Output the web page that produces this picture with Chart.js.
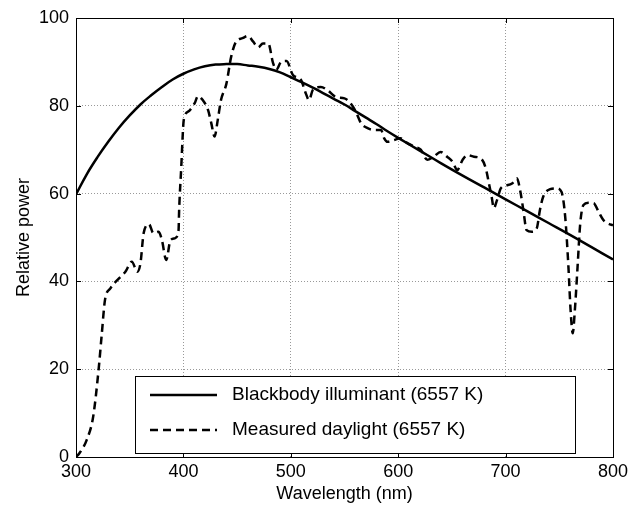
<!DOCTYPE html>
<html lang="en">
<head>
    <meta charset="UTF-8">
    <title>Blackbody vs measured daylight</title>
    <script src="https://cdn.jsdelivr.net/npm/chart.js"></script>
    <style>
        html, body {
            margin: 0;
            padding: 0;
            background: #ffffff;
        }
        .chart-box {
            width: 643px;
            height: 511px;
        }
    </style>
</head>
<body>
    <div class="chart-box">
        <canvas id="spectrumChart"></canvas>
    </div>
    <script>
        // values
        const blackbodyWavelengths = [300, 310, 320, 330, 340, 350, 360, 370, 380, 390, 400, 410, 420, 430, 440, 450,
            460, 470, 480, 490, 500, 510, 520, 530, 540, 550, 560, 570, 580, 590, 600, 620, 640, 660, 680, 700,
            720, 740, 760, 780, 800];
        const blackbodyPower = [59.8, 64.4, 68.3, 71.8, 75, 77.8, 80.3, 82.4, 84.3, 86, 87.3, 88.3, 89, 89.4, 89.5, 89.5,
            89.2, 88.9, 88.4, 87.6, 86.5, 85.4, 84.2, 82.9, 81.6, 80.3, 78.8, 77.3, 75.8, 74.2, 72.7, 69.8, 66.9, 64.1, 61.4, 58.7,
            56, 53.3, 50.6, 47.8, 45];

        const daylightWavelengths = [300, 303, 310, 316, 321, 324, 327, 332, 340, 346, 352, 357, 360, 363, 368, 372,
            377, 380, 384, 388, 392, 395.5, 396, 398, 400, 401, 406, 410.5, 413.5, 418, 423, 426, 429, 432, 435, 440,
            444.5, 449, 455, 460, 465, 469.5, 474, 479, 483.5, 486.5, 491, 496, 502, 509.5, 514, 517, 520.5, 528, 534,
            542, 550, 554.5, 560.5, 565.5, 571.5, 578, 584, 587, 590, 596, 602, 608.5, 615, 621, 627, 633, 639.5,
            645.5, 650.5, 655, 660, 664.5, 670.5, 677, 681.5, 684.5, 687, 689, 692, 695.5, 700, 706, 710.5, 713.5,
            716.5, 719.5, 724.5, 729, 732, 735, 741.5, 747.5, 752, 755.5, 758.5, 760.5, 762.5, 764.5, 767, 769.5,
            772.5, 777, 782, 786.5, 791, 795.5, 800];
        const daylightPower = [0, 0.8, 3.9, 9.2, 19.8, 28, 35.8, 38.4, 40.7, 42.2, 44.5, 42.2, 44.1, 51, 53, 51,
            51.3, 49.4, 44.9, 49.4, 49.8, 51.7, 56, 66, 76, 77.5, 79, 80.6, 82.2, 81.3, 79, 76, 73, 76.8, 81.3, 85,
            91.2, 94.6, 95.4, 95.9, 94.6, 93.3, 94.2, 94.2, 89.7, 88.2, 90, 90.2, 87, 85.9, 82.8, 81.3, 83.6, 84.3, 83.6,
            82, 81.7, 80.9, 78.7, 76, 74.9, 74.5, 74.5, 72.6, 71.8, 72.2, 72.6, 71.5, 70.7, 70, 67.7, 68.4, 69.5,
            68.4, 67.3, 65.4, 67.7, 68.8, 68.4, 68, 65.8, 62.3, 59.3, 56.7, 58.5, 61.2, 61.8, 62.3, 63.5, 60.8,
            56.3, 51.7, 51.3, 52.1, 56.3, 59.3, 61, 61.2, 60.4, 54.7, 43.3, 33.5, 28.2, 33.5, 43.3, 53.2,
            57.4, 57.9, 57.8, 55.9, 54, 53.2, 52.8];

        const xTicks = [300, 400, 500, 600, 700, 800];
        const yTicks = [0, 20, 40, 60, 80, 100];

        const seriesNames = ['Blackbody illuminant (6557 K)', 'Measured daylight (6557 K)'];

        const fontFamily = 'Arial, "Liberation Sans", Helvetica, sans-serif';

        const toPoints = (xs, ys) => xs.map((x, i) => ({ x: x, y: ys[i] }));

        // box around the axes with inward ticks on all four sides
        const frameAndTicks = {
            id: 'frameAndTicks',
            afterDatasetsDraw(chart) {
                const { ctx, chartArea: a, scales } = chart;
                const len = 5;
                ctx.save();
                ctx.strokeStyle = '#000';
                ctx.lineWidth = 1;
                ctx.beginPath();
                xTicks.forEach(v => {
                    const px = Math.round(scales.x.getPixelForValue(v)) + 0.5;
                    ctx.moveTo(px, a.bottom); ctx.lineTo(px, a.bottom - len);
                    ctx.moveTo(px, a.top); ctx.lineTo(px, a.top + len);
                });
                yTicks.forEach(v => {
                    const py = Math.round(scales.y.getPixelForValue(v)) + 0.5;
                    ctx.moveTo(a.left, py); ctx.lineTo(a.left + len, py);
                    ctx.moveTo(a.right, py); ctx.lineTo(a.right - len, py);
                });
                ctx.stroke();
                ctx.strokeRect(Math.round(a.left) + 0.5, Math.round(a.top) + 0.5,
                    Math.round(a.right - a.left), Math.round(a.bottom - a.top));
                ctx.restore();
            }
        };

        // legend box sitting inside the plot, lower left
        const innerLegend = {
            id: 'innerLegend',
            afterDraw(chart) {
                const { ctx, chartArea: a } = chart;
                const x0 = a.left + 59, y0 = a.bottom - 81;
                const w = 440, h = 77;
                ctx.save();
                ctx.fillStyle = '#fff';
                ctx.fillRect(x0, y0, w, h);
                ctx.strokeStyle = '#000';
                ctx.lineWidth = 1;
                ctx.strokeRect(x0 + 0.5, y0 + 0.5, w, h);
                chart.data.datasets.forEach((ds, i) => {
                    const ly = y0 + 19 + i * 35;
                    ctx.beginPath();
                    ctx.setLineDash(ds.borderDash || []);
                    ctx.lineWidth = ds.borderWidth;
                    ctx.strokeStyle = ds.borderColor;
                    ctx.moveTo(x0 + 15, ly);
                    ctx.lineTo(x0 + 82, ly);
                    ctx.stroke();
                    ctx.setLineDash([]);
                    ctx.fillStyle = '#000';
                    ctx.font = '19px ' + fontFamily;
                    ctx.textBaseline = 'middle';
                    ctx.fillText(ds.label, x0 + 97, ly);
                });
                ctx.restore();
            }
        };

        const ctx = document.getElementById('spectrumChart').getContext('2d');
        const spectrumChart = new Chart(ctx, {
            type: 'line',
            data: {
                datasets: [{
                    label: seriesNames[0],
                    data: toPoints(blackbodyWavelengths, blackbodyPower),
                    borderColor: '#000',
                    borderWidth: 2.5,
                    pointRadius: 0,
                    tension: 0.4,
                    fill: false
                }, {
                    label: seriesNames[1],
                    data: toPoints(daylightWavelengths, daylightPower),
                    borderColor: '#000',
                    borderWidth: 2.5,
                    borderDash: [8, 5],
                    pointRadius: 0,
                    cubicInterpolationMode: 'monotone',
                    fill: false
                }]
            },
            options: {
                responsive: true,
                maintainAspectRatio: false,
                animation: false,
                layout: {
                    padding: { left: 0, right: 30, top: 18, bottom: 0 }
                },
                plugins: {
                    legend: { display: false },
                    tooltip: { enabled: false }
                },
                scales: {
                    x: {
                        type: 'linear',
                        min: 300,
                        max: 800,
                        afterBuildTicks: scale => { scale.ticks = xTicks.map(v => ({ value: v })); },
                        afterFit: scale => { scale.height = 54; },
                        grid: { color: '#999', drawTicks: false },
                        border: { display: false, dash: [1, 2] },
                        ticks: {
                            color: '#000',
                            padding: 4,
                            maxRotation: 0,
                            font: { family: fontFamily, size: 18 }
                        },
                        title: {
                            display: true,
                            text: 'Wavelength (nm)',
                            color: '#000',
                            padding: { top: 0, bottom: 6 },
                            font: { family: fontFamily, size: 18 }
                        }
                    },
                    y: {
                        min: 0,
                        max: 100,
                        afterBuildTicks: scale => { scale.ticks = yTicks.map(v => ({ value: v })); },
                        afterFit: scale => { scale.width = 76; },
                        grid: { color: '#999', drawTicks: false },
                        border: { display: false, dash: [1, 2] },
                        ticks: {
                            color: '#000',
                            padding: 7,
                            font: { family: fontFamily, size: 18 }
                        },
                        title: {
                            display: true,
                            text: 'Relative power',
                            color: '#000',
                            padding: { top: 13, bottom: 0 },
                            font: { family: fontFamily, size: 18 }
                        }
                    }
                }
            },
            plugins: [frameAndTicks, innerLegend]
        });
    </script>
</body>
</html>
